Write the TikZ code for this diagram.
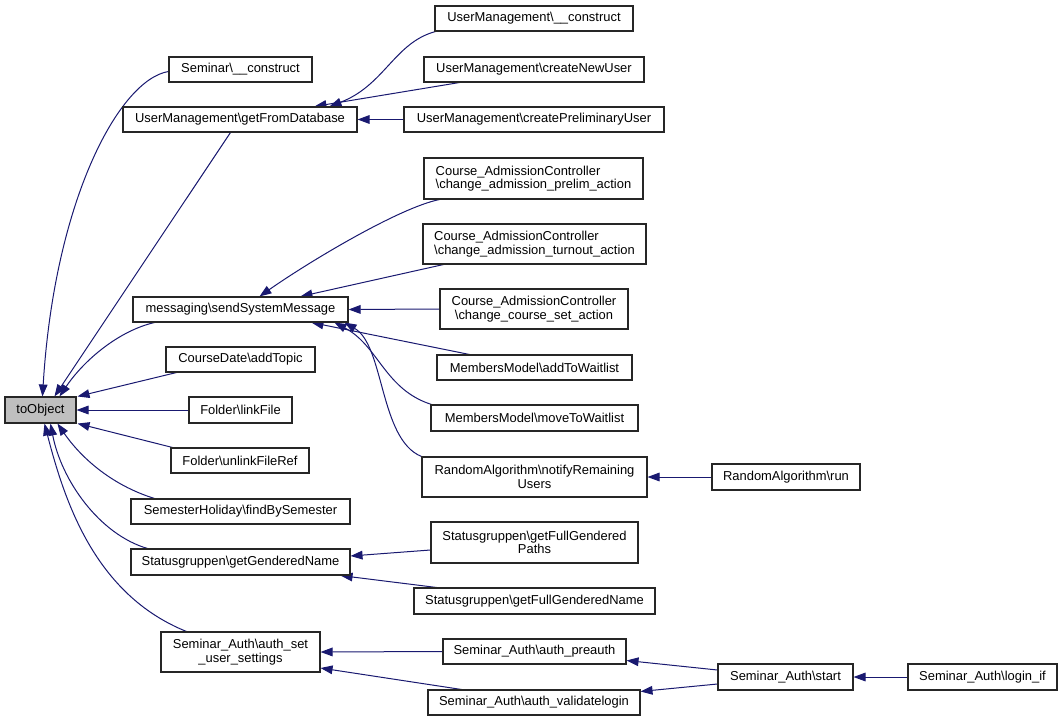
\documentclass[tikz,border=0pt]{standalone}
\usepackage{fontspec}
\setmainfont{Liberation Sans}
\usetikzlibrary{arrows.meta,calc,backgrounds}
\newcommand{\bsl}{\textbackslash}
\definecolor{navy}{HTML}{191970}
\definecolor{boxgray}{HTML}{BFBFBF}
\begin{document}
\begin{tikzpicture}[x=0.75pt,y=-0.75pt,
  box/.style={draw=black!85, line width=0.8pt, fill=white, inner sep=0pt,
    font=\fontsize{9.7pt}{10pt}\selectfont, align=center},
  bx/.style 2 args={minimum width=#1*0.75pt, minimum height=#2*0.75pt},
  edge/.style={draw=navy, line width=0.75pt, -{Triangle[length=9pt,width=6.5pt]}}]
\useasboundingbox (0,0) rectangle (1063,721);
% nodes
\node[box, bx={71}{26}, fill=boxgray] (toObj) at (40.5,410) {toObject};
\node[box, bx={143}{25}] (semc) at (240.5,69.5) {Seminar\bsl\_\_construct};
\node[box, bx={234}{25}] (gfd) at (240,119.5) {UserManagement\bsl getFromDatabase};
\node[box, bx={198}{25}] (umc) at (534,18.5) {UserManagement\bsl\_\_construct};
\node[box, bx={220}{25}] (cnu) at (534,69.5) {UserManagement\bsl createNewUser};
\node[box, bx={260}{25}] (cpu) at (534,119.5) {UserManagement\bsl createPreliminaryUser};
\node[box, bx={219}{41}, align=left] (prelim) at (533.5,178.5) {Course\_AdmissionController\\\bsl change\_admission\_prelim\_action};
\node[box, bx={223}{40}, align=left] (turnout) at (534.5,244) {Course\_AdmissionController\\\bsl change\_admission\_turnout\_action};
\node[box, bx={215}{25}] (ssm) at (240.5,309.5) {messaging\bsl sendSystemMessage};
\node[box, bx={188}{40}] (cset) at (534,309) {Course\_AdmissionController\\\bsl change\_course\_set\_action};
\node[box, bx={195}{25}] (atw) at (534.5,367.5) {MembersModel\bsl addToWaitlist};
\node[box, bx={207}{26}] (mtw) at (534.5,418) {MembersModel\bsl moveToWaitlist};
\node[box, bx={225}{40}] (nru) at (534.5,477) {RandomAlgorithm\bsl notifyRemaining\\Users};
\node[box, bx={148}{26}] (run) at (786,477) {RandomAlgorithm\bsl run};
\node[box, bx={149}{25}] (adt) at (240.5,359.5) {CourseDate\bsl addTopic};
\node[box, bx={103}{26}] (lf) at (240.5,410) {Folder\bsl linkFile};
\node[box, bx={138}{25}] (ulf) at (240,460.5) {Folder\bsl unlinkFileRef};
\node[box, bx={219}{25}] (sh) at (240.5,511.5) {SemesterHoliday\bsl findBySemester};
\node[box, bx={219}{26}] (ggn) at (240.5,562) {Statusgruppen\bsl getGenderedName};
\node[box, bx={159}{40}] (aus) at (240.5,652) {Seminar\_Auth\bsl auth\_set\\\_user\_settings};
\node[box, bx={207}{41}] (gfp) at (534.5,542.5) {Statusgruppen\bsl getFullGendered\\Paths};
\node[box, bx={241}{26}] (gfn) at (534.5,601) {Statusgruppen\bsl getFullGenderedName};
\node[box, bx={183}{25}] (pre) at (534.5,651.5) {Seminar\_Auth\bsl auth\_preauth};
\node[box, bx={212}{25}] (val) at (534,702.5) {Seminar\_Auth\bsl auth\_validatelogin};
\node[box, bx={135}{26}] (start) at (785.5,677) {Seminar\_Auth\bsl start};
\node[box, bx={149}{26}] (login) at (982.5,677) {Seminar\_Auth\bsl login\_if};
\begin{pgfonlayer}{background}
% edges into toObject
\draw[edge] ($(semc.west)+(0,2)$) .. controls +(-49,8) and +(12,-197) .. ($(toObj.north west)+(38,0)$);
\draw[edge] ($(gfd.south west)+(108,0)$) -- ($(toObj.north west)+(50,0)$);
\draw[edge] ($(ssm.south west)+(22,0)$) .. controls +(-35,8) and +(25,-37) .. ($(toObj.north west)+(55,0)$);
\draw[edge] ($(adt.south west)+(11,0)$) -- ($(toObj.north east)+(1,0)$);
\draw[edge] (lf.west) -- (toObj.east);
\draw[edge] ($(ulf.north west)+(2,0)$) -- ($(toObj.south east)+(1,0)$);
\draw[edge] ($(sh.north west)+(24,0)$) .. controls +(-45,-14) and +(22,32) .. ($(toObj.south west)+(53,0)$);
\draw[edge] ($(ggn.north west)+(17,0)$) .. controls +(-48,-14) and +(11,57) .. ($(toObj.south west)+(46,0)$);
\draw[edge] ($(aus.north west)+(26,0)$) .. controls +(-92,-37) and +(20,77) .. ($(toObj.south west)+(40,0)$);
% edges into getFromDatabase
\draw[edge] ($(umc.south west)+(1,0)$) .. controls +(-41,11) and +(55,-21) .. ($(gfd.north west)+(207,0)$);
\draw[edge] ($(cnu.south west)+(36,0)$) -- ($(gfd.north west)+(192,0)$);
\draw[edge] (cpu.west) -- (gfd.east);
% edges into sendSystemMessage
\draw[edge] ($(prelim.south west)+(16,0)$) .. controls +(-40,8) and +(50,-35) .. ($(ssm.north west)+(127,0)$);
\draw[edge] ($(turnout.south west)+(21,0)$) -- ($(ssm.north west)+(168,0)$);
\draw[edge] (cset.west) -- (ssm.east);
\draw[edge] ($(atw.north west)+(33,0)$) -- ($(ssm.south west)+(179,0)$);
\draw[edge] ($(mtw.north west)+(1,0)$) .. controls +(-47,-15) and +(44,23) .. ($(ssm.south west)+(202,0)$);
\draw[edge] ($(nru.north west)+(0,0)$) .. controls +(-42,-17) and +(40,23) .. ($(ssm.south west)+(212,0)$);
\draw[edge] (run.west) -- (nru.east);
% Statusgruppen
\draw[edge] ($(gfp.west)+(0,7.5)$) -- ($(ggn.east)+(0,-6)$);
\draw[edge] ($(gfn.north west)+(23,0)$) -- ($(ggn.south east)+(-10,0)$);
% Seminar_Auth
\draw[edge] (pre.west) -- (aus.east);
\draw[edge] ($(val.north west)+(34,0)$) -- ($(aus.east)+(0,16)$);
\draw[edge] ($(start.west)+(0,-7)$) -- ($(pre.east)+(0,9)$);
\draw[edge] ($(start.west)+(0,7)$) -- ($(val.north east)+(0,2)$);
\draw[edge] (login.west) -- (start.east);
\end{pgfonlayer}
\end{tikzpicture}
\end{document}
